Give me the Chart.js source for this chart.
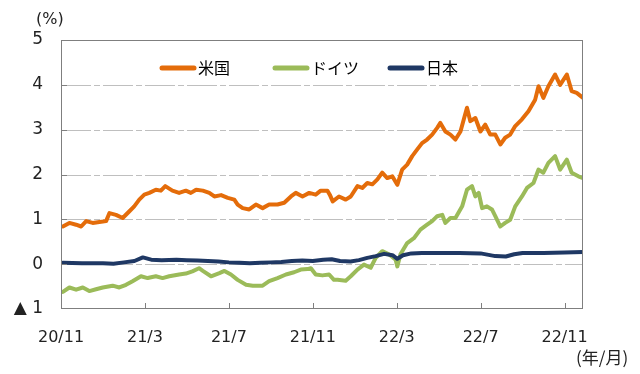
<!DOCTYPE html>
<html>
<head>
<meta charset="utf-8">
<script src="https://cdn.jsdelivr.net/npm/chart.js@4/dist/chart.umd.min.js"></script>
<style>
  html, body { margin: 0; padding: 0; background: #fff; }
  #wrap { width: 640px; height: 374px; }
</style>
</head>
<body>
<div id="wrap"><canvas id="myChart" width="640" height="374"></canvas></div>
<script>
// x = months since 2020/11, y = 10y yield (%)
const xLabels = ['20/11', '21/3', '21/7', '21/11', '22/3', '22/7', '22/11'];
const seriesNames = ['米国', 'ドイツ', '日本'];
const seriesColors = ['#E46C0A', '#9BBB59', '#1F3864'];

const usX = [0.09,0.40,0.72,0.96,1.20,1.51,1.83,2.15,2.31,2.62,
  2.94,3.26,3.49,3.73,3.97,4.21,4.52,4.76,4.97,5.31,
  5.63,5.95,6.19,6.44,6.76,7.07,7.31,7.63,7.95,8.26,
  8.42,8.66,8.97,9.29,9.61,9.92,10.32,10.64,10.96,11.19,
  11.51,11.83,12.14,12.38,12.70,12.81,12.95,13.25,13.57,13.81,
  14.13,14.36,14.60,14.84,15.08,15.31,15.55,15.79,16.03,16.26,
  16.50,16.74,16.98,17.21,17.45,17.69,17.93,18.08,18.32,18.56,
  18.80,19.04,19.35,19.51,19.75,19.99,20.22,20.46,20.70,20.94,
  21.17,21.41,21.65,21.97,22.28,22.60,22.76,22.99,23.23,23.55,
  23.79,24.11,24.34,24.58,24.88];
const usY = [0.84,0.92,0.88,0.84,0.96,0.92,0.94,0.96,1.14,1.10,
  1.03,1.18,1.29,1.44,1.55,1.59,1.66,1.64,1.74,1.64,
  1.59,1.64,1.59,1.66,1.64,1.59,1.51,1.54,1.48,1.44,
  1.33,1.25,1.22,1.33,1.25,1.33,1.33,1.37,1.51,1.59,
  1.51,1.59,1.55,1.64,1.64,1.55,1.40,1.51,1.44,1.51,
  1.74,1.70,1.81,1.78,1.89,2.04,1.92,1.96,1.77,2.11,
  2.22,2.41,2.56,2.70,2.78,2.89,3.04,3.15,2.96,2.89,
  2.78,2.96,3.49,3.19,3.26,2.96,3.11,2.89,2.89,2.67,
  2.82,2.89,3.08,3.23,3.41,3.67,3.97,3.71,3.97,4.23,
  4.00,4.23,3.86,3.82,3.71];

const deX = [0.09,0.40,0.72,1.04,1.35,1.67,1.99,2.46,2.78,3.10,
  3.41,3.81,4.13,4.52,4.84,5.16,5.63,5.95,6.26,6.58,
  6.76,7.15,7.55,7.79,8.10,8.42,8.82,9.14,9.61,9.92,
  10.32,10.72,11.11,11.43,11.75,11.91,12.14,12.46,12.78,13.01,
  13.18,13.57,13.81,14.13,14.44,14.76,15.00,15.31,15.63,15.95,
  16.03,16.18,16.50,16.82,17.13,17.45,17.69,17.93,18.17,18.32,
  18.56,18.80,19.12,19.35,19.59,19.75,19.91,20.07,20.30,20.54,
  20.70,20.94,21.17,21.41,21.65,21.97,22.21,22.52,22.76,22.99,
  23.23,23.55,23.79,24.11,24.34,24.66,24.88];
const deY = [-0.62,-0.52,-0.57,-0.52,-0.60,-0.56,-0.52,-0.48,-0.52,-0.46,
  -0.38,-0.27,-0.31,-0.27,-0.31,-0.27,-0.23,-0.21,-0.16,-0.09,
  -0.15,-0.27,-0.20,-0.15,-0.23,-0.35,-0.46,-0.48,-0.48,-0.38,
  -0.31,-0.23,-0.18,-0.12,-0.11,-0.09,-0.23,-0.25,-0.23,-0.35,
  -0.35,-0.37,-0.27,-0.12,-0.01,-0.08,0.14,0.29,0.22,0.10,
  -0.05,0.22,0.47,0.58,0.77,0.88,0.96,1.07,1.10,0.92,
  1.03,1.03,1.29,1.66,1.74,1.51,1.59,1.25,1.29,1.22,
  1.07,0.84,0.92,0.99,1.29,1.51,1.70,1.81,2.11,2.04,
  2.26,2.41,2.11,2.33,2.04,1.96,1.92];

const jpX = [0.09,1.0,2.0,2.5,3.0,3.5,3.9,4.3,4.8,5.5,
  6.0,6.5,7.0,7.5,8.0,8.5,9.0,9.5,10.0,10.5,
  11.0,11.5,12.0,12.5,12.9,13.3,13.8,14.2,14.6,15.0,
  15.4,15.8,16.03,16.3,16.7,17.2,18.0,19.0,20.0,20.7,
  21.2,21.6,22.0,23.0,24.0,24.88];
const jpY = [0.03,0.02,0.02,0.01,0.04,0.07,0.15,0.10,0.09,0.10,
  0.09,0.08,0.07,0.06,0.04,0.03,0.02,0.03,0.04,0.05,
  0.07,0.08,0.07,0.10,0.11,0.07,0.06,0.09,0.14,0.18,
  0.23,0.20,0.12,0.20,0.24,0.25,0.25,0.25,0.24,0.18,
  0.17,0.22,0.25,0.25,0.26,0.27];

const yMin = -1, yMax = 5, xMax = 24.88;

function pts(xs, ys) {
    return xs.map((x, i) => ({ x: x, y: ys[i] }));
}

// grid lines, frame, inner tick marks, legend and unit labels
const decor = {
    id: 'decor',
    beforeDatasetsDraw(chart) {
        const { ctx, chartArea: a, scales: { y } } = chart;
        ctx.save();
        ctx.strokeStyle = '#bfbfbf';
        ctx.lineWidth = 1;
        ctx.setLineDash([30, 3, 6, 3]);
        for (let v = 0; v < yMax; v++) {
            const py = Math.round(y.getPixelForValue(v)) + 0.5;
            ctx.beginPath();
            ctx.moveTo(a.left, py);
            ctx.lineTo(a.right, py);
            ctx.stroke();
        }
        ctx.restore();
    },
    afterDraw(chart) {
        const { ctx, chartArea: a, scales: { x, y } } = chart;
        ctx.save();
        ctx.strokeStyle = '#7f7f7f';
        ctx.lineWidth = 1;
        ctx.strokeRect(Math.round(a.left) + 0.5, Math.round(a.top) + 0.5,
            Math.round(a.width) - 1, Math.round(a.height) - 1);
        ctx.beginPath();
        for (let v = 0; v < yMax; v++) {
            const py = Math.round(y.getPixelForValue(v)) + 0.5;
            ctx.moveTo(a.left, py);
            ctx.lineTo(a.left + 6, py);
        }
        for (let i = 1; i < xLabels.length; i++) {
            const px = Math.round(x.getPixelForValue(i * 4)) + 0.5;
            ctx.moveTo(px, a.bottom);
            ctx.lineTo(px, a.bottom - 6);
        }
        ctx.stroke();

        // legend inside the plot
        const legX = [160, 273, 388];
        ctx.lineCap = 'round';
        ctx.textBaseline = 'middle';
        ctx.font = '16px "Noto Sans CJK JP"';
        seriesNames.forEach((name, i) => {
            ctx.strokeStyle = seriesColors[i];
            ctx.lineWidth = 5;
            ctx.beginPath();
            ctx.moveTo(legX[i] + 2, 68);
            ctx.lineTo(legX[i] + 34, 68);
            ctx.stroke();
            ctx.fillStyle = '#000';
            ctx.fillText(name, legX[i] + 38, 68);
        });

        ctx.fillStyle = '#222';
        ctx.font = '16px "DejaVu Sans"';
        ctx.fillText('(%)', 36, 20);
        ctx.font = '17px "Noto Sans CJK JP"';
        ctx.fillText('(年/月)', 576, 358);
        ctx.restore();
    }
};

const ctx = document.getElementById('myChart');
const chart = new Chart(ctx, {
    type: 'line',
    data: {
        datasets: [
            { label: seriesNames[0], data: pts(usX, usY), borderColor: seriesColors[0], order: 2 },
            { label: seriesNames[1], data: pts(deX, deY), borderColor: seriesColors[1], order: 1 },
            { label: seriesNames[2], data: pts(jpX, jpY), borderColor: seriesColors[2], order: 0 }
        ]
    },
    options: {
        responsive: false,
        animation: false,
        layout: { padding: { top: 40, right: 57, left: 0, bottom: 0 } },
        elements: {
            point: { radius: 0 },
            line: { borderWidth: 4, tension: 0, borderCapStyle: 'round', borderJoinStyle: 'round' }
        },
        scales: {
            x: {
                type: 'linear',
                min: 0,
                max: xMax,
                grid: { display: false, drawTicks: false },
                border: { display: false },
                afterFit: (s) => { s.height = 65; },
                ticks: {
                    stepSize: 4,
                    includeBounds: false,
                    autoSkip: false,
                    maxRotation: 0,
                    padding: 19,
                    color: '#222',
                    font: { family: 'DejaVu Sans', size: 16 },
                    callback: (v) => xLabels[Math.round(v / 4)]
                }
            },
            y: {
                min: yMin,
                max: yMax,
                grid: { display: false, drawTicks: false },
                border: { display: false },
                afterFit: (s) => { s.width = 61; },
                ticks: {
                    stepSize: 1,
                    padding: 18,
                    color: '#222',
                    font: { family: 'DejaVu Sans', size: 17 },
                    callback: (v) => v === -1 ? '▲ 1' : String(v)
                }
            }
        },
        plugins: {
            legend: { display: false },
            tooltip: { enabled: false }
        }
    },
    plugins: [decor]
});
</script>
</body>
</html>
